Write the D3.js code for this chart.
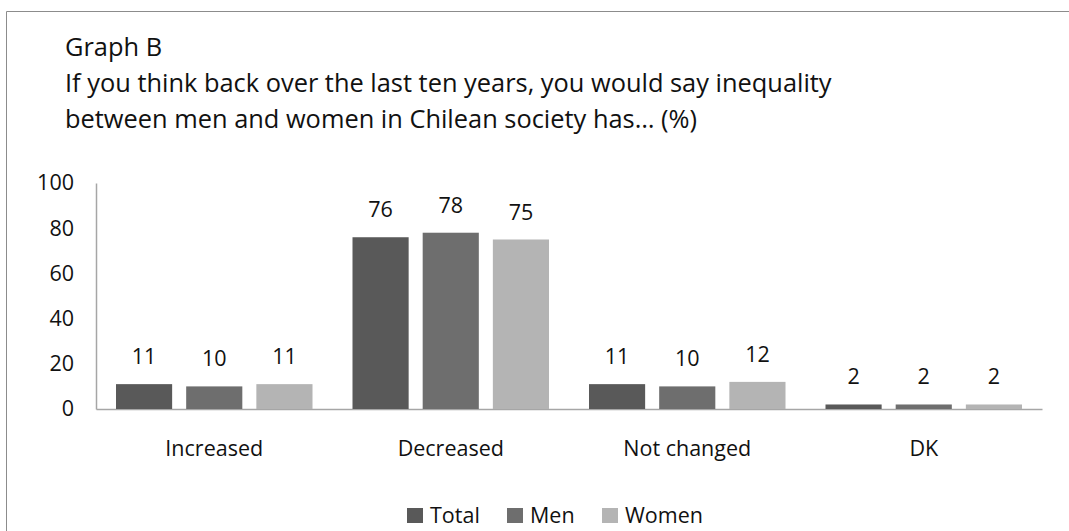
<!DOCTYPE html>
<html>
<head>
<meta charset="utf-8">
<script src="https://cdn.jsdelivr.net/npm/d3@7"></script>
<style>
  body { margin: 0; background: #fff; }
  text { font-family: "Open Sans", sans-serif; fill: #111; }
</style>
</head>
<body>
<script>
const categories = ["Increased", "Decreased", "Not changed", "DK"];
const seriesNames = ["Total", "Men", "Women"];
const total = [11, 76, 11, 2];
const men = [10, 78, 10, 2];
const women = [11, 75, 12, 2];
const yTicks = [0, 20, 40, 60, 80, 100];
const titleLines = [
  "Graph B",
  "If you think back over the last ten years, you would say inequality",
  "between men and women in Chilean society has\u2026 (%)"
];
const colors = ["#595959", "#6e6e6e", "#b4b4b4"];

const W = 1069, H = 531;
const seriesValues = [total, men, women];
const labelSize = "21.5px";

var svg = d3.select("body").append("svg")
    .attr("width", W)
    .attr("height", H);

// frame
svg.append("path")
    .attr("d", "M6.5," + H + "V11.5H" + (W + 2))
    .attr("fill", "none")
    .attr("stroke", "#8c8c8c")
    .attr("stroke-width", 1);

// title
svg.append("g").selectAll("text")
    .data(titleLines)
  .enter().append("text")
    .attr("x", 65)
    .attr("y", function(d, i) { return 56 + i * 36; })
    .style("font-size", "25.4px")
    .text(function(d) { return d; });

var x0 = d3.scaleBand()
    .domain(categories)
    .range([96, 1042])
    .paddingInner(0)
    .paddingOuter(0);

var x1 = d3.scaleBand()
    .domain(seriesNames)
    .range([20, x0.bandwidth() - 20])
    .paddingInner(0.2);

var y = d3.scaleLinear().domain([0, 100]).range([409, 183]);

// y axis
var yAxis = d3.axisLeft(y).tickValues(yTicks).tickSize(0).tickPadding(22);
var gy = svg.append("g")
    .attr("transform", "translate(96,0)")
    .call(yAxis);
gy.select(".domain").attr("stroke", "#a6a6a6").attr("stroke-width", 1.5);
gy.selectAll("text").style("font-size", labelSize).attr("font-family", null);

// x axis
var xAxis = d3.axisBottom(x0).tickSize(0).tickPadding(32);
var gx = svg.append("g")
    .attr("transform", "translate(0,409)")
    .call(xAxis);
gx.select(".domain").attr("stroke", "#a6a6a6").attr("stroke-width", 1.5);
gx.selectAll("text").style("font-size", labelSize).attr("font-family", null);

// bars
var groups = svg.append("g").selectAll("g")
    .data(categories)
  .enter().append("g")
    .attr("transform", function(d) { return "translate(" + x0(d) + ",0)"; });

function cells(d, i) {
    return seriesNames.map(function(s, j) { return {s: s, j: j, v: seriesValues[j][i]}; });
}

groups.selectAll("rect")
    .data(cells)
  .enter().append("rect")
    .attr("x", function(d) { return x1(d.s); })
    .attr("y", function(d) { return y(d.v); })
    .attr("width", x1.bandwidth())
    .attr("height", function(d) { return y(0) - y(d.v); })
    .attr("fill", function(d) { return colors[d.j]; });

groups.selectAll("text")
    .data(cells)
  .enter().append("text")
    .attr("x", function(d) { return x1(d.s) + x1.bandwidth() / 2; })
    .attr("y", function(d) { return y(d.v) - 20; })
    .attr("text-anchor", "middle")
    .style("font-size", labelSize)
    .text(function(d) { return d.v; });

// legend
var legendX = [407, 507, 602];
var legend = svg.append("g").selectAll("g")
    .data(seriesNames)
  .enter().append("g")
    .attr("transform", function(d, i) { return "translate(" + legendX[i] + ",508)"; });
legend.append("rect")
    .attr("width", 16)
    .attr("height", 15)
    .attr("fill", function(d, i) { return colors[i]; });
legend.append("text")
    .attr("x", 23)
    .attr("y", 15)
    .style("font-size", labelSize)
    .text(function(d) { return d; });
</script>
</body>
</html>
